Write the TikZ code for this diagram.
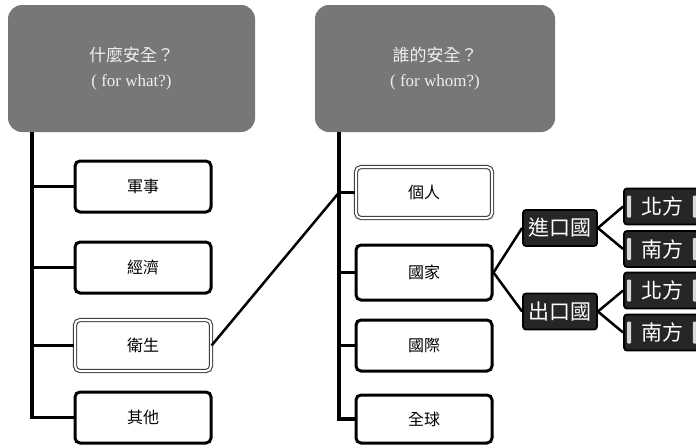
\documentclass[tikz,border=0pt]{standalone}
\usepackage{fontspec}
\setmainfont{Liberation Serif}
\newfontfamily\cjk{Noto Sans CJK TC}
\definecolor{hdrgray}{HTML}{777777}
\definecolor{hdrtext}{HTML}{EEEEEE}
\definecolor{darkfill}{HTML}{262626}
\definecolor{barfill}{HTML}{D8D8D8}
\begin{document}
\begin{tikzpicture}[x=1pt,y=-1pt,
  hdr/.style={fill=hdrgray, rounded corners=14pt, minimum width=247pt, minimum height=127pt,
    text=hdrtext, align=center, font=\fontsize{17}{25}\selectfont, inner sep=0},
  box/.style={draw=black, line width=3pt, rounded corners=5pt, minimum width=136pt,
    minimum height=51pt, fill=white, font=\cjk\fontsize{16}{18}\selectfont, inner sep=0},
  dbox/.style={box, draw=black!75, line width=1.1pt, double=white, double distance=2pt},
  dark/.style={fill=darkfill, draw=black, line width=1.8pt, rounded corners=3pt, text=white,
    font=\cjk\fontsize{21}{22}\selectfont, minimum height=36pt, inner sep=0},
  conn/.style={line width=3.4pt, black},
  thin/.style={line width=2.5pt, black},
  bar/.style={fill=barfill, rounded corners=1pt}]
\useasboundingbox (0,0) rectangle (696,445);
\clip (0,0) rectangle (696,445);

% headers
\node[hdr] (h1) at (131.5,68.5) {{\cjk 什麼安全？}\\( for what?)};
\node[hdr, minimum width=240pt] (h2) at (435,68.5) {{\cjk 誰的安全？}\\( for whom?)};

% left column
\node[box] (a1) at (143,186.5) {軍事};
\node[box] (a2) at (143,267.5) {經濟};
\node[dbox] (a3) at (143,345.5) {衛生};
\node[box] (a4) at (143,417.5) {其他};

% right column
\node[dbox] (b1) at (424,192.5) {個人};
\node[box, minimum height=55pt] (b2) at (424,272.5) {國家};
\node[box] (b3) at (424,345.5) {國際};
\node[box, minimum height=48pt] (b4) at (424,419) {全球};

% trunks
\coordinate (L) at (h1.south -| 32,0);
\coordinate (R) at (h2.south -| 339,0);
\draw[conn] (L) |- (a4.west);
\draw[conn] (a1.west) -- (a1.west -| L);
\draw[conn] (a2.west) -- (a2.west -| L);
\draw[conn] (a3.west) -- (a3.west -| L);
\draw[conn] (R) |- (b4.west);
\draw[conn] (b1.west) -- (b1.west -| R);
\draw[conn] (b2.west) -- (b2.west -| R);
\draw[conn] (b3.west) -- (b3.west -| R);
\draw[thin] (a3.east) -- (b1.west -| R);

% dark boxes
\node[dark, minimum width=74pt] (c1) at (560,228) {進口國};
\node[dark, minimum width=74pt] (c2) at (560,311.5) {出口國};
\node[dark, minimum width=76pt] (d1) at (662,206.5) {北方};
\node[dark, minimum width=76pt] (d2) at (662,249) {南方};
\node[dark, minimum width=76pt] (d3) at (662,290.5) {北方};
\node[dark, minimum width=76pt] (d4) at (662,332.5) {南方};
\foreach \n in {d1,d2,d3,d4}{
  \fill[bar] ([xshift=4pt,yshift=11pt]\n.west) rectangle ([xshift=8pt,yshift=-11pt]\n.west);
  \fill[bar] ([xshift=-8pt,yshift=11pt]\n.east) rectangle ([xshift=-4pt,yshift=-11pt]\n.east);
}

\draw[thin] (b2.east) -- (c1.west);
\draw[thin] (b2.east) -- (c2.west);
\draw[thin] (c1.east) -- (d1.west);
\draw[thin] (c1.east) -- (d2.west);
\draw[thin] (c2.east) -- (d3.west);
\draw[thin] (c2.east) -- (d4.west);
\end{tikzpicture}
\end{document}
